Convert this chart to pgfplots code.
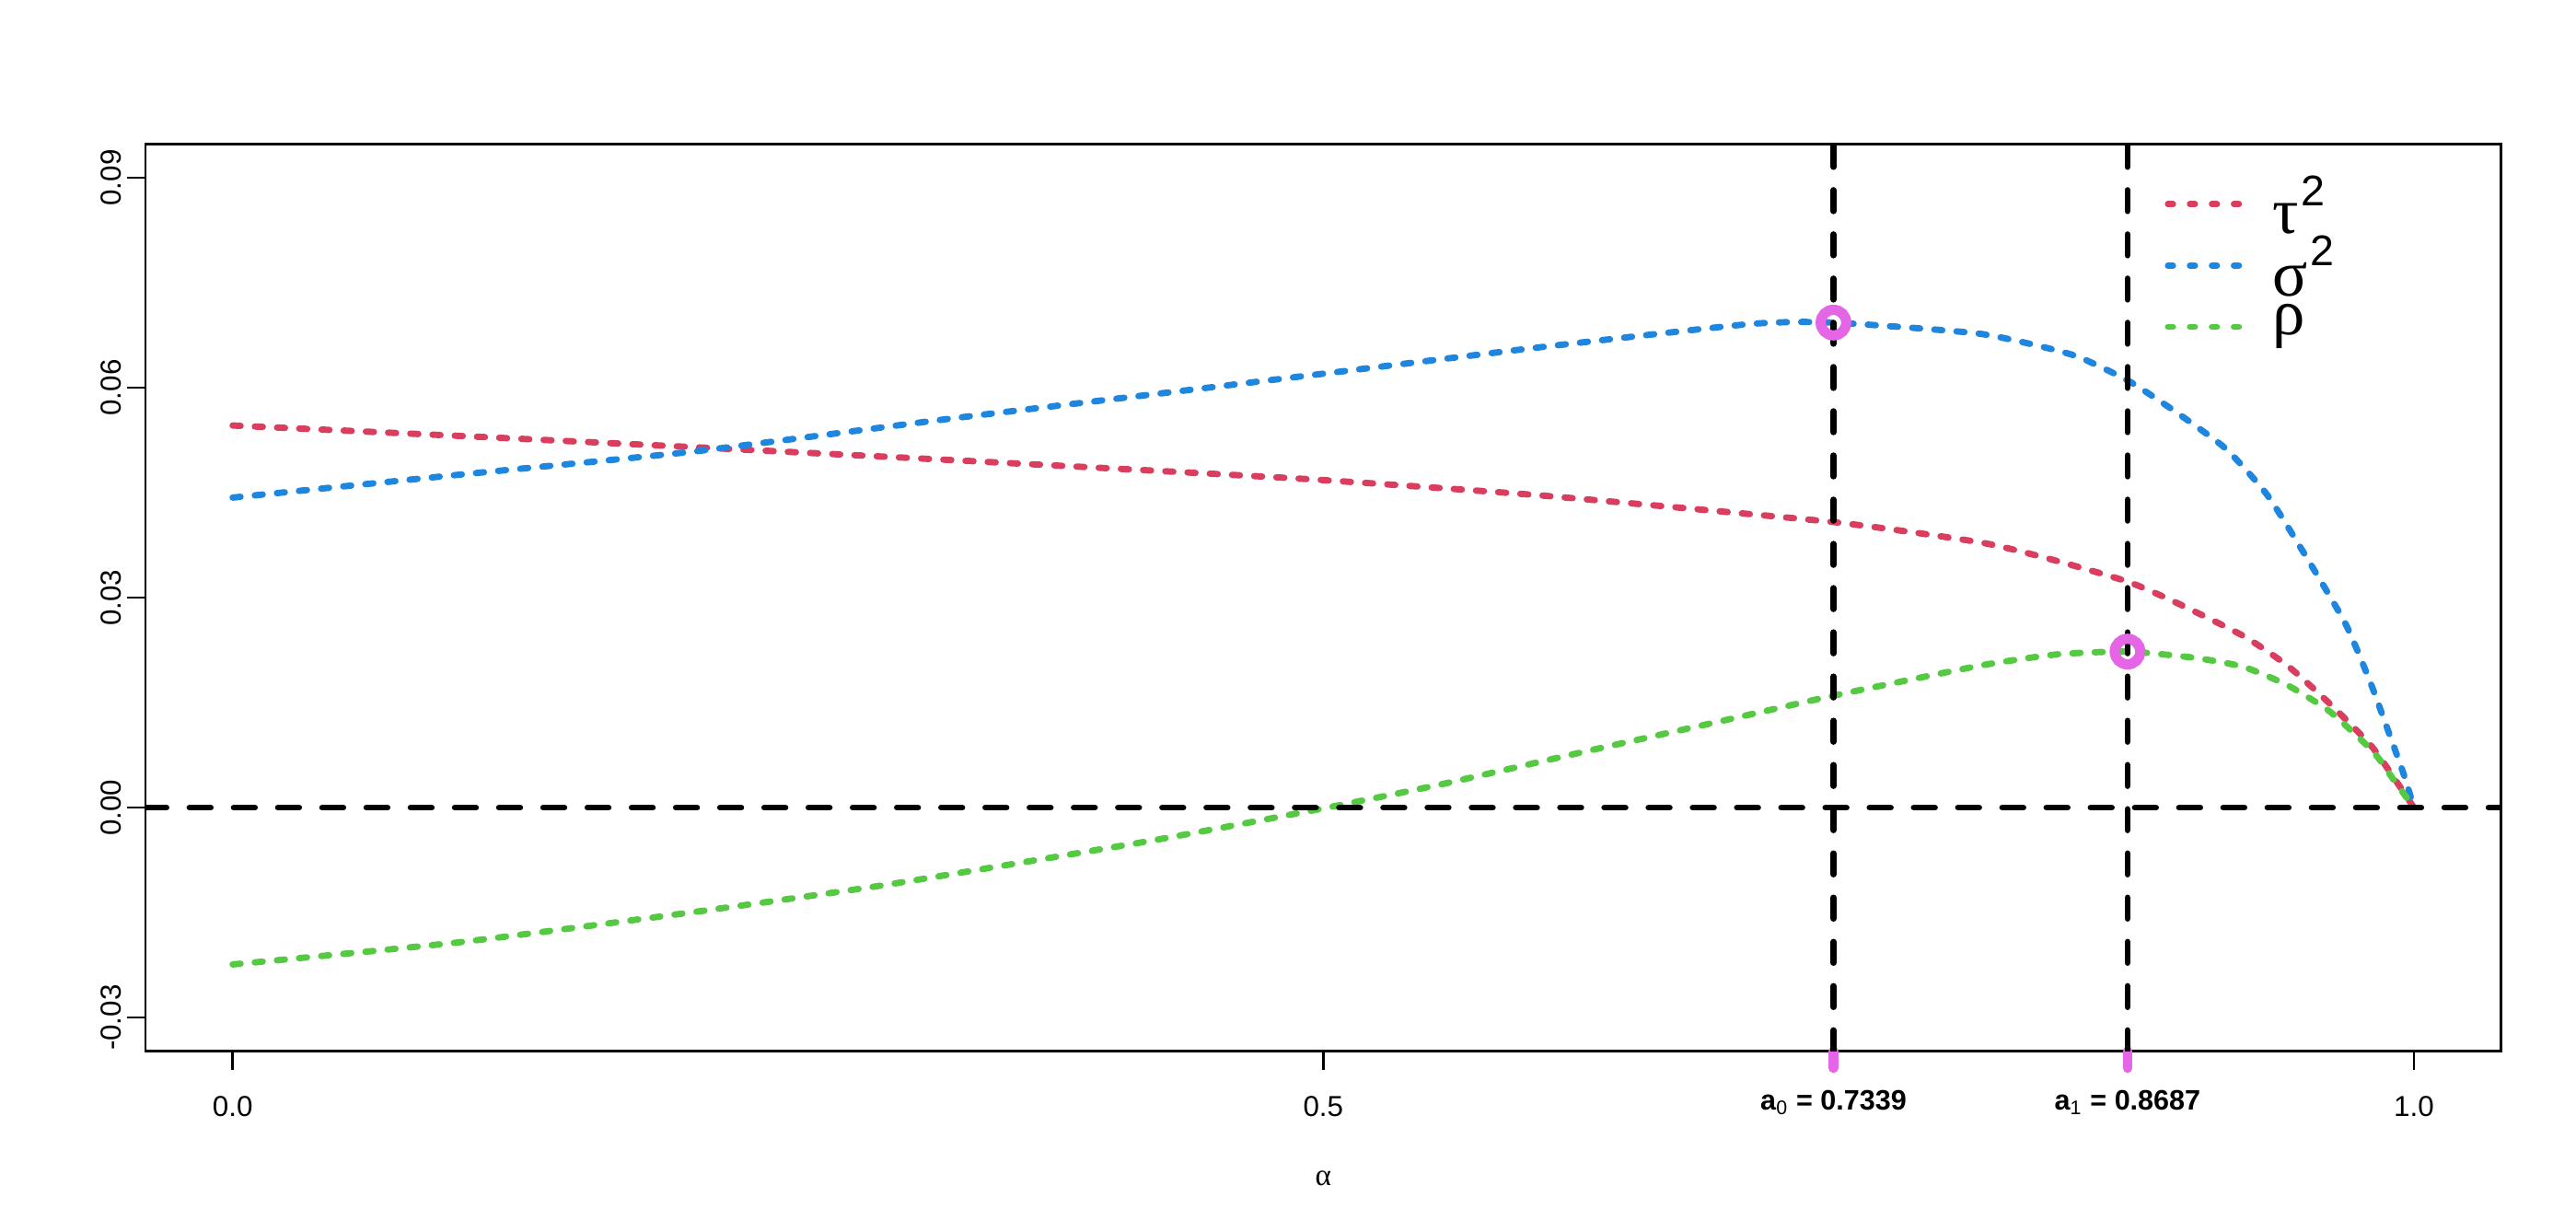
\documentclass[border=0pt]{standalone}
\usepackage{pgfplots}
\pgfplotsset{compat=1.18}
\usepackage{fontspec}
\setmainfont{Liberation Sans}
\newfontfamily\greekfont{Liberation Serif}
\definecolor{cred}{HTML}{D93E5E}
\definecolor{cblue}{HTML}{1F86E0}
\definecolor{cgreen}{HTML}{55C942}
\definecolor{cmag}{HTML}{E466E6}
\begin{document}
\begin{tikzpicture}
\useasboundingbox (0,0) rectangle (1008pt,482pt);
\begin{axis}[
  at={(56.9pt,70.7pt)}, anchor=south west,
  width=921.8pt, height=354.9pt, scale only axis,
  xmin=-0.04, xmax=1.04, ymin=-0.0348, ymax=0.0948,
  scaled y ticks=false, scaled x ticks=false,
  tick pos=left, tick align=outside,
  major tick length=7.2pt,
  axis line style={line width=0.9pt},
  every tick/.style={line width=0.9pt, black},
  xtick={0,0.5,1}, xticklabels={0.0,0.5,1.0},
  ytick={-0.03,0,0.03,0.06,0.09}, yticklabels={-0.03,0.00,0.03,0.06,0.09},
  xticklabel style={font=\fontsize{11.3}{13}\selectfont, anchor=base},
  xticklabel shift=18.4pt,
  yticklabel style={font=\fontsize{11.3}{13}\selectfont, rotate=90, anchor=base},
  yticklabel shift=2.5pt,
  extra x ticks={0.7339,0.8687},
  extra x tick labels={{\textbf{a}\textsubscript{0}\textbf{ = 0.7339}},{\textbf{a}\textsubscript{1}\textbf{ = 0.8687}}},
  extra x tick style={major tick length=6.6pt,
     every tick/.style={draw=cmag, line width=3.8pt, line cap=round},
     xticklabel style={font=\fontsize{11}{13}\selectfont, anchor=base},
     xticklabel shift=16.4pt},
  xlabel={\greekfont\fontsize{12}{14}\selectfont α},
  xlabel style={at={(axis description cs:0.5,0)}, anchor=base, yshift=-52.7pt},
  clip=true,
]
% tau^2
\addplot[cred, line width=2.5pt, line cap=round, dash pattern=on 3.1pt off 5.6pt, smooth, tension=0.35] coordinates {
(0,0.0546) (0.1048,0.0531) (0.2117,0.0515) (0.327,0.0497) (0.4312,0.0480) (0.5,0.0468) (0.6,0.0446) (0.7339,0.0408) (0.8012,0.0379) (0.8334,0.0355) (0.8687,0.0323) (0.891,0.0293) (0.922,0.0245) (0.942,0.0203) (0.9616,0.0148) (0.9813,0.0085) (1.0,0.0)};
% sigma^2
\addplot[cblue, line width=2.5pt, line cap=round, dash pattern=on 3.1pt off 5.6pt, smooth, tension=0.35] coordinates {
(0,0.0443) (0.1048,0.0476) (0.2117,0.0509) (0.327,0.0555) (0.4312,0.0594) (0.5,0.0620) (0.6,0.0658) (0.6957,0.0691) (0.7339,0.0693) (0.8012,0.0677) (0.8434,0.0647) (0.8695,0.0609) (0.891,0.0565) (0.9137,0.0513) (0.9327,0.0447) (0.9503,0.0360) (0.9686,0.0263) (0.9799,0.0180) (0.9883,0.0109) (0.9954,0.0047) (1,0)};
% rho
\addplot[cgreen, line width=2.5pt, line cap=round, dash pattern=on 3.1pt off 5.6pt, smooth, tension=0.35] coordinates {
(0,-0.0224) (0.1048,-0.0192) (0.2117,-0.0149) (0.3,-0.0110) (0.4214,-0.0047) (0.5016,0.0) (0.555,0.0034) (0.6169,0.0078) (0.68,0.0122) (0.7339,0.0160) (0.8012,0.0203) (0.8364,0.0219) (0.8687,0.0223) (0.8997,0.0214) (0.922,0.0201) (0.942,0.0175) (0.9616,0.0137) (0.9813,0.0080) (0.990,0.0043) (1,0)};
% points
\addplot[only marks, mark=o, cmag, line width=4pt, mark size=5pt, mark options={solid, draw=cmag, line width=4pt}] coordinates {(0.7339,0.0693) (0.8687,0.0223)};
% reference lines
\addplot[black, line width=2.4pt, line cap=round, dash pattern=on 8.2pt off 9.1pt] coordinates {(-0.04,0) (1.04,0)};
\addplot[black, line width=2.4pt, line cap=round, dash pattern=on 8.2pt off 9.1pt] coordinates {(0.7339,-0.0348) (0.7339,0.0948)};
\addplot[black, line width=2.4pt, line cap=round, dash pattern=on 8.2pt off 9.1pt] coordinates {(0.8687,-0.0348) (0.8687,0.0948)};
\end{axis}
% legend
\draw[cred, line width=2.4pt, line cap=round, dash pattern=on 2pt off 6.6pt] (848.3pt,402.1pt) -- (876.1pt,402.1pt);
\draw[cblue, line width=2.4pt, line cap=round, dash pattern=on 2pt off 6.6pt] (848.3pt,378.1pt) -- (876.1pt,378.1pt);
\draw[cgreen, line width=2.4pt, line cap=round, dash pattern=on 2pt off 6.6pt] (848.3pt,354.1pt) -- (876.1pt,354.1pt);
\node[anchor=base west, inner sep=0pt] at (889pt,390.7pt) {{\greekfont\fontsize{25.5}{27}\selectfont τ}\hspace{1pt}\raisebox{10.8pt}{\fontsize{16.8}{18}\selectfont 2}};
\node[anchor=base west, inner sep=0pt] at (889pt,366.1pt) {{\greekfont\fontsize{25.5}{27}\selectfont σ}\hspace{1pt}\raisebox{12pt}{\fontsize{16.8}{18}\selectfont 2}};
\node[anchor=base west, inner sep=0pt] at (889pt,351.1pt) {{\greekfont\fontsize{25.5}{27}\selectfont ρ}};
\end{tikzpicture}
\end{document}
